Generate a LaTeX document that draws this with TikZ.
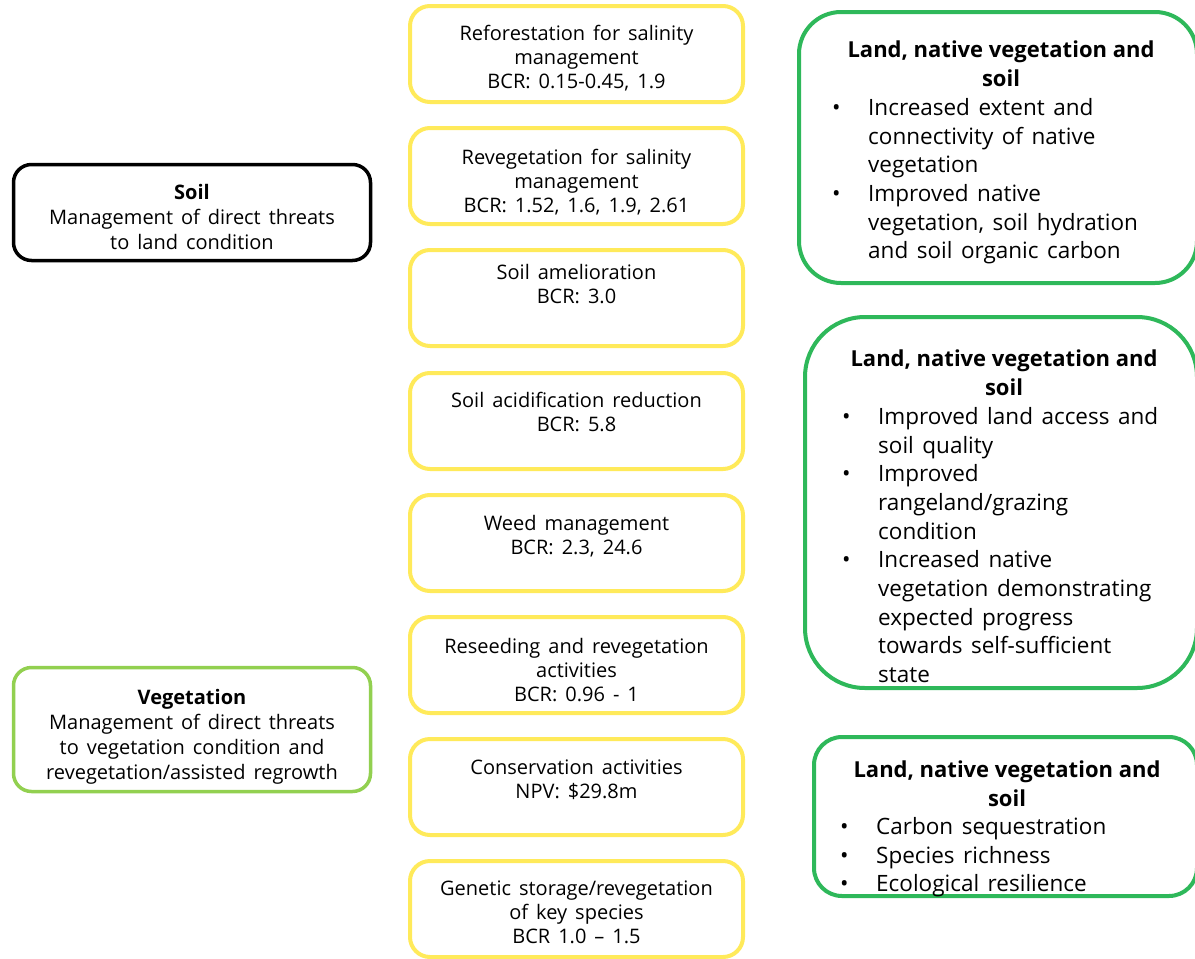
\documentclass[tikz,border=0pt]{standalone}
\usepackage{fontspec}
\setmainfont{Open Sans}
\definecolor{actyellow}{RGB}{255,234,90}
\definecolor{veggreen}{RGB}{146,208,80}
\definecolor{outgreen}{RGB}{46,184,90}
\newcommand{\bul}{\makebox[36pt][l]{•}}
\newcommand{\ind}{\hspace*{36pt}}
\newcommand{\widespaces}{\spaceskip 8pt plus 2pt minus 1pt\relax}
\newcommand{\widerspaces}{\spaceskip 8.5pt plus 2pt minus 1pt\relax}
\tikzset{
  actbox/.style={draw=actyellow, line width=4pt, rounded corners=20pt,
    minimum width=333pt, minimum height=96pt, inner sep=0pt},
  acttext/.style={anchor=north, align=center, inner sep=0pt,
    font=\fontsize{20}{24}\selectfont\widespaces},
  themebox/.style={line width=3.5pt, rounded corners=18pt,
    minimum width=357pt, inner sep=0pt},
  themetext/.style={anchor=north, align=center, inner sep=0pt,
    font=\fontsize{20}{25}\selectfont\widespaces},
  outbox/.style={draw=outgreen, line width=4pt, inner sep=0pt},
  outhead/.style={anchor=north, align=center, inner sep=0pt,
    font=\fontsize{22}{28.7}\selectfont\bfseries},
  outbody/.style={anchor=north west, align=left, inner sep=0pt,
    font=\fontsize{22.5}{28.7}\selectfont\widerspaces},
}
\begin{document}
\begin{tikzpicture}[x=1pt,y=-1pt]
\clip (0,0) rectangle (1195,959);
\fill[white] (0,0) rectangle (1195,959);

% themes
\node[themebox, draw=black, minimum height=96pt] (soil) at (192,212.5) {};
\node[themetext] (soilt) at (192,184)
  {\textbf{Soil}\\Management of direct threats\\to land condition};
\node[themebox, draw=veggreen, minimum height=124pt] (veg) at (192,729.5) {};
\node[themetext] (vegt) at (192,689)
  {\textbf{Vegetation}\\Management of direct threats\\to vegetation condition and\\revegetation/assisted regrowth};

% activities
\node[actbox] (a1) at (576.5,54) {};
\node[acttext] (a1t) at (576.5,25) {Reforestation for salinity\\management\\BCR: 0.15-0.45, 1.9};
\node[actbox] (a2) at (576.5,176) {};
\node[acttext] (a2t) at (576.5,149) {Revegetation for salinity\\management\\BCR: 1.52, 1.6, 1.9, 2.61};
\node[actbox] (a3) at (576.5,298) {};
\node[acttext] (a3t) at (576.5,264) {Soil amelioration\\BCR: 3.0};
\node[actbox] (a4) at (576.5,421) {};
\node[acttext] (a4t) at (576.5,392) {Soil acidification reduction\\BCR: 5.8};
\node[actbox] (a5) at (576.5,543) {};
\node[acttext] (a5t) at (576.5,515) {Weed management\\BCR: 2.3, 24.6};
\node[actbox] (a6) at (576.5,665) {};
\node[acttext] (a6t) at (576.5,638) {Reseeding and revegetation\\activities\\BCR: 0.96 - 1};
\node[actbox] (a7) at (576.5,787) {};
\node[acttext] (a7t) at (576.5,760) {Conservation activities\\NPV: \$29.8m};
\node[actbox] (a8) at (576.5,909) {};
\node[acttext] (a8t) at (576.5,881) {Genetic storage/revegetation\\of key species\\BCR 1.0 – 1.5};

% outcomes
\node[outbox, rounded corners=42pt, minimum width=398pt, minimum height=271pt] (o1) at (998,147.5) {};
\node[outhead] (o1h) at (1001,41) {Land, native vegetation and\\soil};
\node[outbody] (o1b) at (832,98) {\bul Increased extent and\\\ind connectivity of native\\\ind vegetation\\
  \bul Improved native\\\ind vegetation, soil hydration\\\ind and soil organic carbon};

\node[outbox, rounded corners=60pt, minimum width=392pt, minimum height=371pt] (o2) at (1001,502.5) {};
\node[outhead] (o2h) at (1004,350) {Land, native vegetation and\\soil};
\node[outbody] (o2b) at (842,407) {\bul Improved land access and\\\ind soil quality\\
  \bul Improved\\\ind rangeland/grazing\\\ind condition\\
  \bul Increased native\\\ind vegetation demonstrating\\\ind expected progress\\\ind towards self-sufficient\\\ind state};

\node[outbox, rounded corners=28pt, minimum width=383pt, minimum height=159pt] (o3) at (1005.5,816.5) {};
\node[outhead] (o3h) at (1007,761) {Land, native vegetation and\\soil};
\node[outbody] (o3b) at (840,817) {\bul Carbon sequestration\\\bul Species richness\\\bul Ecological resilience};
\end{tikzpicture}
\end{document}
